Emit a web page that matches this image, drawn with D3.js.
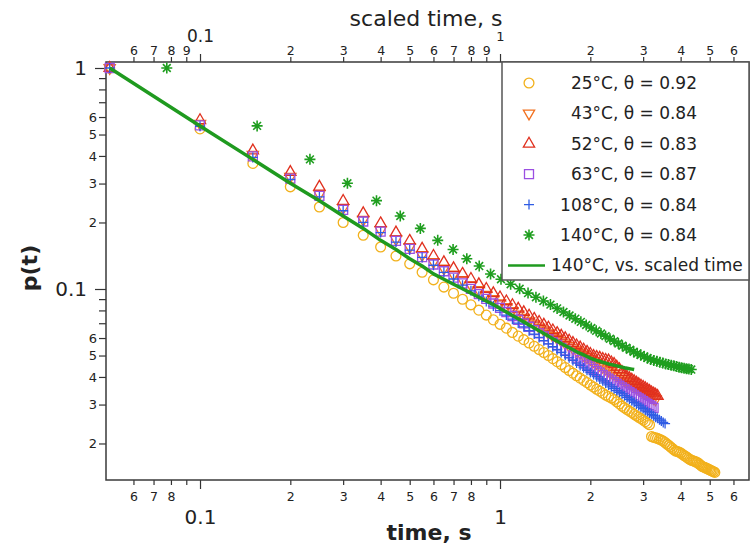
<!DOCTYPE html>
<html>
<head>
<meta charset="utf-8">
<script src="https://cdn.jsdelivr.net/npm/d3@7"></script>
<style>
  body { margin: 0; background: #fff; }
  text { font-family: "DejaVu Sans", sans-serif; fill: #222; }
</style>
</head>
<body>
<div id="chart-area"></div>
<script>
// sampling times (s), one point every 0.05 s
const times = [
  0.05,0.1,0.15,0.2,0.25,0.3,0.35,0.4,0.45,0.5,
  0.55,0.6,0.65,0.7,0.75,0.8,0.85,0.9,0.95,1,
  1.05,1.1,1.15,1.2,1.25,1.3,1.35,1.4,1.45,1.5,
  1.55,1.6,1.65,1.7,1.75,1.8,1.85,1.9,1.95,2,
  2.05,2.1,2.15,2.2,2.25,2.3,2.35,2.4,2.45,2.5,
  2.55,2.6,2.65,2.7,2.75,2.8,2.85,2.9,2.95,3,
  3.05,3.1,3.15,3.2,3.25,3.3,3.35,3.4,3.45,3.5,
  3.55,3.6,3.65,3.7,3.75,3.8,3.85,3.9,3.95,4,
  4.05,4.1,4.15,4.2,4.25,4.3,4.35,4.4,4.45,4.5,
  4.55,4.6,4.65,4.7,4.75,4.8,4.85,4.9,4.95,5,
  5.05,5.1,5.15,5.2
];

// 140 C sampling times (s)
const starTimes = [
  0.0775,0.155,0.2325,0.31,0.3875,0.465,0.5425,0.62,0.6975,0.775,
  0.8525,0.93,1.0075,1.085,1.1625,1.24,1.3175,1.395,1.4725,1.55,
  1.6275,1.705,1.7825,1.86,1.9375,2.015,2.0925,2.17,2.2475,2.325,
  2.4025,2.48,2.5575,2.635,2.7125,2.79,2.8675,2.945,3.0225,3.1,
  3.1775,3.255,3.3325,3.41,3.4875,3.565,3.6425,3.72,3.7975,3.875,
  3.9525,4.03,4.1075,4.185,4.2625,4.34
];

const p25 = [
  1,0.53,0.37,0.29,0.235,0.2,0.175,0.155,0.141,0.13,
  0.119,0.11,0.102,0.0957,0.0899,0.0848,0.0802,0.0762,0.0725,0.0692,
  0.0665,0.0636,0.0612,0.059,0.057,0.0551,0.0532,0.0516,0.05,0.0484,
  0.0469,0.0455,0.0441,0.0428,0.0416,0.0405,0.0395,0.0386,0.0377,0.0368,
  0.036,0.0352,0.0345,0.0338,0.0331,0.0326,0.0321,0.0316,0.0309,0.0302,
  0.0295,0.029,0.0285,0.028,0.0276,0.0271,0.0267,0.0263,0.0259,0.0255,
  0.0251,0.0247,0.0243,0.0215,0.0213,0.0212,0.0211,0.0209,0.0207,0.0205,
  0.0202,0.0199,0.0196,0.0193,0.019,0.0187,0.0185,0.0184,0.0183,0.0181,
  0.0179,0.0177,0.0175,0.0173,0.0171,0.0169,0.0168,0.0167,0.0166,0.0165,
  0.0164,0.0162,0.016,0.0158,0.0157,0.0156,0.0155,0.0154,0.0153,0.0152,
  0.0151,0.015,0.0149,0.0148
];

const p43 = [
  1,0.56,0.405,0.322,0.269,0.233,0.206,0.185,0.168,0.155,
  0.1426,0.1326,0.124,0.1165,0.11,0.1041,0.099,0.0943,0.0901,0.0863,
  0.0829,0.0797,0.0768,0.0741,0.0716,0.0693,0.0671,0.0651,0.0632,0.0614,
  0.0597,0.0582,0.0567,0.0553,0.054,0.0527,0.0515,0.0504,0.0493,0.0482,
  0.0472,0.0463,0.0454,0.0445,0.0437,0.0429,0.0421,0.0414,0.0407,0.04,
  0.0393,0.0387,0.0381,0.0375,0.0369,0.0363,0.0358,0.0353,0.0348,0.0343,
  0.0338,0.0334,0.0329,0.0325,0.0321,0.0317
];

const p52 = [
  1,0.58,0.423,0.338,0.29,0.25,0.22,0.198,0.18,0.165,
  0.152,0.141,0.132,0.124,0.117,0.111,0.105,0.1,0.0956,0.0915,
  0.0878,0.0844,0.0813,0.0784,0.0757,0.0732,0.0709,0.0688,0.0668,0.0649,
  0.0631,0.0614,0.0598,0.0583,0.0569,0.0555,0.0543,0.0531,0.0519,0.0508,
  0.0497,0.0492,0.0488,0.0482,0.0477,0.0474,0.0465,0.0457,0.0444,0.0433,
  0.0421,0.041,0.04,0.0394,0.0388,0.0382,0.0376,0.037,0.0365,0.036,
  0.0355,0.035,0.0345,0.034,0.0336,0.0332,0.0328
];

const p63 = [
  1,0.55,0.398,0.316,0.264,0.228,0.202,0.182,0.165,0.152,
  0.1395,0.1291,0.1203,0.1127,0.106,0.1001,0.0949,0.0902,0.086,0.0822,
  0.0787,0.0755,0.0726,0.0699,0.0675,0.0651,0.063,0.061,0.0592,0.0574,
  0.0558,0.0542,0.0528,0.0514,0.0501,0.0489,0.0477,0.0466,0.0455,0.0445,
  0.0435,0.0426,0.0418,0.0409,0.0401,0.0393,0.0386,0.0379,0.0372,0.0365,
  0.0359,0.0353,0.0347,0.0341,0.0336,0.033,0.0325,0.032,0.0316,0.0311,
  0.0306,0.0302,0.0298,0.0294,0.029
];

const p108 = [
  1,0.545,0.394,0.313,0.261,0.226,0.2,0.18,0.163,0.15,
  0.1389,0.1281,0.119,0.111,0.1041,0.0981,0.0928,0.0879,0.0837,0.0798,
  0.0762,0.073,0.0701,0.0674,0.0648,0.0625,0.0604,0.0584,0.0565,0.0548,
  0.0531,0.0516,0.0501,0.0488,0.0475,0.0462,0.0451,0.044,0.0429,0.0419,
  0.041,0.0401,0.0392,0.0384,0.0376,0.0368,0.0361,0.0354,0.0347,0.0341,
  0.0335,0.0329,0.0323,0.0317,0.0312,0.0307,0.0302,0.0297,0.0292,0.0288,
  0.0283,0.0279,0.0275,0.0271,0.0267,0.0263,0.026,0.0256,0.0253,0.0249,
  0.0246
];

const p140 = [
  1,0.547,0.386,0.301,0.251,0.214,0.188,0.166,0.151,0.137,
  0.127,0.117,0.1107,0.1051,0.1002,0.0958,0.0918,0.0883,0.085,0.0817,
  0.0787,0.0759,0.0734,0.071,0.0687,0.0666,0.0647,0.0629,0.0612,0.0595,
  0.0581,0.0567,0.0554,0.0542,0.0531,0.052,0.0511,0.0503,0.0495,0.0487,
  0.048,0.0475,0.0471,0.0466,0.0462,0.0458,0.0455,0.0452,0.0449,0.0446,
  0.0443,0.044,0.0438,0.0436,0.0434,0.0432
];

// 140 C data against scaled time (same sampling grid as the others)
const scaledTimes = times.slice(0, p140.length);

// axis ticks
const xMajorTicks = [0.1, 1];
const xMinorTicks = [0.06,0.07,0.08,0.09,0.2,0.3,0.4,0.5,0.6,0.7,0.8,0.9,2,3,4,5,6];
const xBottomLabels = [0.06,0.07,0.08,0.2,0.3,0.4,0.5,0.6,0.7,0.8,2,3,4,5,6];
const xTopLabels = [0.06,0.07,0.08,0.09,0.2,0.3,0.4,0.5,0.6,0.7,0.8,0.9,2,3,4,5,6];
const yMajorTicks = [1, 0.1];
const yMinorTicks = [0.9,0.8,0.7,0.6,0.5,0.4,0.3,0.2,0.09,0.08,0.07,0.06,0.05,0.04,0.03,0.02];
const yLabels = [0.6,0.5,0.4,0.3,0.2,0.06,0.05,0.04,0.03,0.02];

// SVG size
let width_raw = 753,
	height_raw = 554;

let margin = {top: 62, right: 4, bottom: 74, left: 106};

let width = width_raw - margin.left - margin.right,
	height = height_raw - margin.top - margin.bottom;

let root = d3.select("#chart-area")
	.append("svg")
	.attr("width", width_raw)
	.attr("height", height_raw);

let svg = root.append("g")
	.attr("transform", "translate(" + margin.left + "," + margin.top + ")");

// log scales
let x = d3.scaleLog()
	.domain([0.0486, 6.76])
	.range([0, width]);

let xTop = d3.scaleLog()
	.domain([0.0486, 6.76])
	.range([0, width]);

let y = d3.scaleLog()
	.domain([0.01367, 1.0645])
	.range([height, 0]);

// leading digit of a tick value
let digit = d => Math.round(d / Math.pow(10, Math.floor(Math.log10(d) + 1e-9)));

let styleAxis = g => {
	g.select(".domain").remove();
	g.selectAll(".tick line").attr("stroke", "#333").attr("stroke-width", 1.2);
	g.selectAll("text").attr("fill", "#333");
};

// bottom axis
svg.append("g")
	.attr("transform", "translate(0," + height + ")")
	.call(d3.axisBottom(x).tickValues(xMinorTicks).tickSize(5)
		.tickFormat(d => xBottomLabels.includes(d) ? digit(d) : ""))
	.call(styleAxis)
	.call(g => g.selectAll("text").attr("y", 12).style("font-size", "12.5px"));

svg.append("g")
	.attr("transform", "translate(0," + height + ")")
	.call(d3.axisBottom(x).tickValues(xMajorTicks).tickSize(9)
		.tickFormat(d => d === 1 ? "1" : "0.1"))
	.call(styleAxis)
	.call(g => g.selectAll("text").attr("y", 30).style("font-size", "20px"));

// top axis (scaled time)
svg.append("g")
	.call(d3.axisTop(xTop).tickValues(xMinorTicks).tickSize(5)
		.tickFormat(d => xTopLabels.includes(d) ? digit(d) : ""))
	.call(styleAxis)
	.call(g => g.selectAll("text").attr("y", -7).style("font-size", "12.5px"));

svg.append("g")
	.call(d3.axisTop(xTop).tickValues(xMajorTicks).tickSize(8)
		.tickFormat(d => d === 1 ? "1" : "0.1"))
	.call(styleAxis)
	.call(g => g.selectAll("text")
		.attr("y", d => d === 1 ? -21 : -20)
		.style("font-size", d => d === 1 ? "13px" : "17px"));

// left axis
svg.append("g")
	.call(d3.axisLeft(y).tickValues(yMinorTicks).tickSize(7)
		.tickFormat(d => yLabels.includes(d) ? digit(d) : ""))
	.call(styleAxis)
	.call(g => g.selectAll("text").attr("x", -9).style("font-size", "13px"));

svg.append("g")
	.call(d3.axisLeft(y).tickValues(yMajorTicks).tickSize(11)
		.tickFormat(d => d === 1 ? "1" : "0.1"))
	.call(styleAxis)
	.call(g => g.selectAll("text").attr("x", -19).style("font-size", "20px"));

// frame
svg.append("rect")
	.attr("width", width)
	.attr("height", height)
	.attr("fill", "none")
	.attr("stroke", "#3a3a3a")
	.attr("stroke-width", 1.5);

// axis titles
root.append("text")
	.attr("x", 429).attr("y", 540)
	.attr("text-anchor", "middle")
	.style("font-size", "22px").style("font-weight", "bold")
	.text("time, s");

root.append("text")
	.attr("x", 426).attr("y", 26)
	.attr("text-anchor", "middle")
	.style("font-size", "22px")
	.text("scaled time, s");

root.append("text")
	.attr("transform", "translate(37,268)rotate(-90)")
	.attr("text-anchor", "middle")
	.style("font-size", "22px").style("font-weight", "bold")
	.text("p(t)");

// marker shapes
let shapes = {
	circle: d3.symbol(d3.symbolCircle, 76)(),
	square: d3.symbol(d3.symbolSquare, 81)(),
	up: d3.symbol(d3.symbolTriangle, 55)(),
	down: d3.symbol(d3.symbolTriangle, 55)(),
	plus: "M-5,0H5M0,-5V5",
	star: "M-5.5,0H5.5M0,-5.5V5.5M-3.9,-3.9L3.9,3.9M-3.9,3.9L3.9,-3.9"
};

let series = [
	{label: "25°C, θ = 0.92", values: p25, t: times, color: "#f2b11c", shape: "circle"},
	{label: "43°C, θ = 0.84", values: p43, t: times, color: "#f2711f", shape: "down"},
	{label: "52°C, θ = 0.83", values: p52, t: times, color: "#e0301e", shape: "up"},
	{label: "63°C, θ = 0.87", values: p63, t: times, color: "#9b4fe2", shape: "square"},
	{label: "108°C, θ = 0.84", values: p108, t: times, color: "#2f5ce4", shape: "plus"},
	{label: "140°C, θ = 0.84", values: p140, t: starTimes, color: "#1f9e1f", shape: "star"}
];

let markerTransform = (s, px, py) =>
	"translate(" + px + "," + py + ")" + (s.shape === "down" ? "rotate(180)" : "");

// Add markers
series.forEach(s => {
	svg.append("g")
		.selectAll("path")
		.data(s.values.map((p, i) => ({t: s.t[i], p: p})))
		.enter()
		.append("path")
		.attr("d", shapes[s.shape])
		.attr("transform", d => markerTransform(s, x(d.t), y(d.p)))
		.attr("fill", "none")
		.attr("stroke", s.color)
		.attr("stroke-width", s.shape === "star" ? 1.6 : 1.3);
});

// 140 C vs scaled time
let line = d3.line()
	.x(d => xTop(d.t))
	.y(d => y(d.p));

svg.append("path")
	.datum(p140.map((p, i) => ({t: scaledTimes[i], p: p})))
	.attr("d", line)
	.attr("fill", "none")
	.attr("stroke", "#1f9a1f")
	.attr("stroke-width", 3.5)
	.attr("stroke-linejoin", "round");

// Legend
let legend = root.append("g");

legend.append("rect")
	.attr("x", 502).attr("y", 62)
	.attr("width", 247).attr("height", 218)
	.attr("fill", "#fff")
	.attr("stroke", "#555")
	.attr("stroke-width", 1.5);

series.forEach((s, i) => {
	let cy = 83 + i * 30.4;
	legend.append("path")
		.attr("d", shapes[s.shape])
		.attr("transform", markerTransform(s, 529, cy))
		.attr("fill", "none")
		.attr("stroke", s.color)
		.attr("stroke-width", s.shape === "star" ? 1.6 : 1.3);
	legend.append("text")
		.attr("x", 697).attr("y", cy + 6)
		.attr("text-anchor", "end")
		.style("font-size", "17px")
		.text(s.label);
});

let lastY = 83 + 6 * 30.4;
legend.append("line")
	.attr("x1", 508).attr("x2", 545)
	.attr("y1", lastY).attr("y2", lastY)
	.attr("stroke", "#1f9a1f")
	.attr("stroke-width", 2.5);

legend.append("text")
	.attr("x", 551).attr("y", lastY + 6)
	.style("font-size", "17px")
	.text("140°C, vs. scaled time");
</script>
</body>
</html>
